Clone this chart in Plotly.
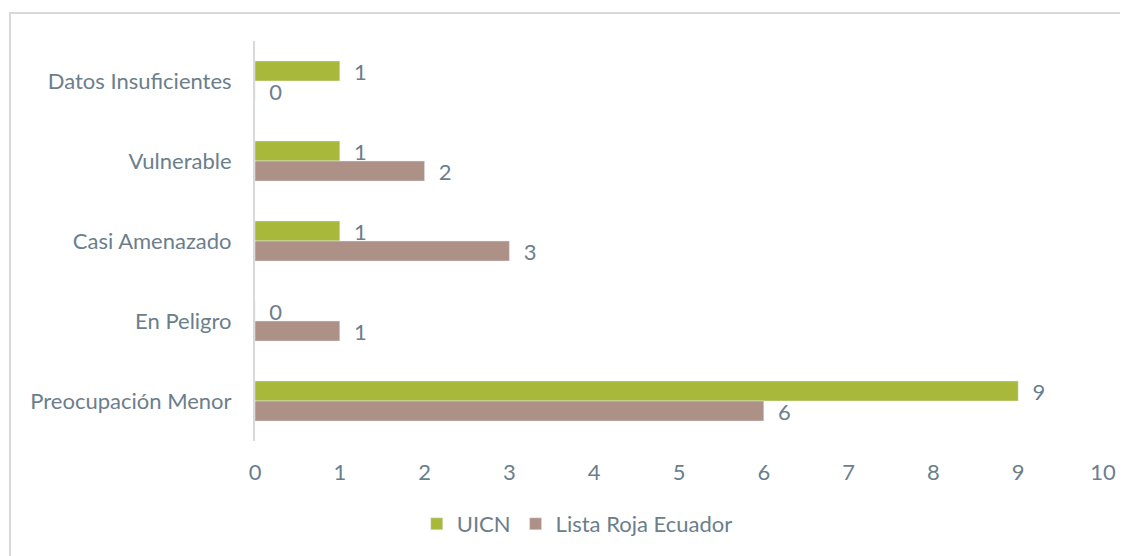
import plotly.graph_objects as go

categories = ["Datos Insuficientes", "Vulnerable", "Casi Amenazado", "En Peligro", "Preocupación Menor"]
uicn = [1, 1, 1, 0, 9]
lista_roja = [0, 2, 3, 1, 6]
x_ticks = [0, 1, 2, 3, 4, 5, 6, 7, 8, 9, 10]

TXT = "#6B7E8C"
FONT = "Lato"
FS = 22
pad = "\u00a0\u00a0"

fig = go.Figure()
fig.add_trace(go.Bar(
    y=categories, x=uicn, orientation="h", name="UICN",
    marker=dict(color="#A7B83A"),
    text=[pad + str(v) for v in uicn], textposition="outside", constraintext="none",
    textfont=dict(color=TXT, size=FS, family=FONT), cliponaxis=False,
))
fig.add_trace(go.Bar(
    y=categories, x=lista_roja, orientation="h", name="Lista Roja Ecuador",
    marker=dict(color="#AD9086"),
    text=[pad + str(v) for v in lista_roja], textposition="outside", constraintext="none",
    textfont=dict(color=TXT, size=FS, family=FONT), cliponaxis=False,
))

fig.update_layout(
    width=1128, height=556,
    margin=dict(l=247, r=33, t=33, b=123),
    paper_bgcolor="white", plot_bgcolor="white",
    barmode="group", bargap=0.5, bargroupgap=0,
    font=dict(family=FONT, color=TXT, size=FS),
    showlegend=True,
    legend=dict(orientation="h", x=0.380, y=-0.2075, xanchor="center", yanchor="middle",
                font=dict(size=FS, color=TXT, family=FONT), itemwidth=30,
                traceorder="normal"),
    xaxis=dict(range=[0, 10], tickvals=x_ticks, showgrid=False, zeroline=False,
               showline=False, ticks="", ticklabelstandoff=16,
               tickfont=dict(size=FS, color=TXT, family=FONT), fixedrange=True),
    yaxis=dict(autorange="reversed", showgrid=False, zeroline=False,
               showline=True, linecolor="#D9D9D9", linewidth=2, ticks="",
               ticklabelstandoff=17,
               tickfont=dict(size=FS, color=TXT, family=FONT)),
    shapes=[dict(type="rect", xref="paper", yref="paper",
                 x0=(10 - 255) / 848, x1=1.2, y0=-0.6, y1=(441 - 13) / 400,
                 line=dict(color="#D9D9D9", width=2), fillcolor="rgba(0,0,0,0)",
                 layer="below")],
)

fig.write_html("out.html")
